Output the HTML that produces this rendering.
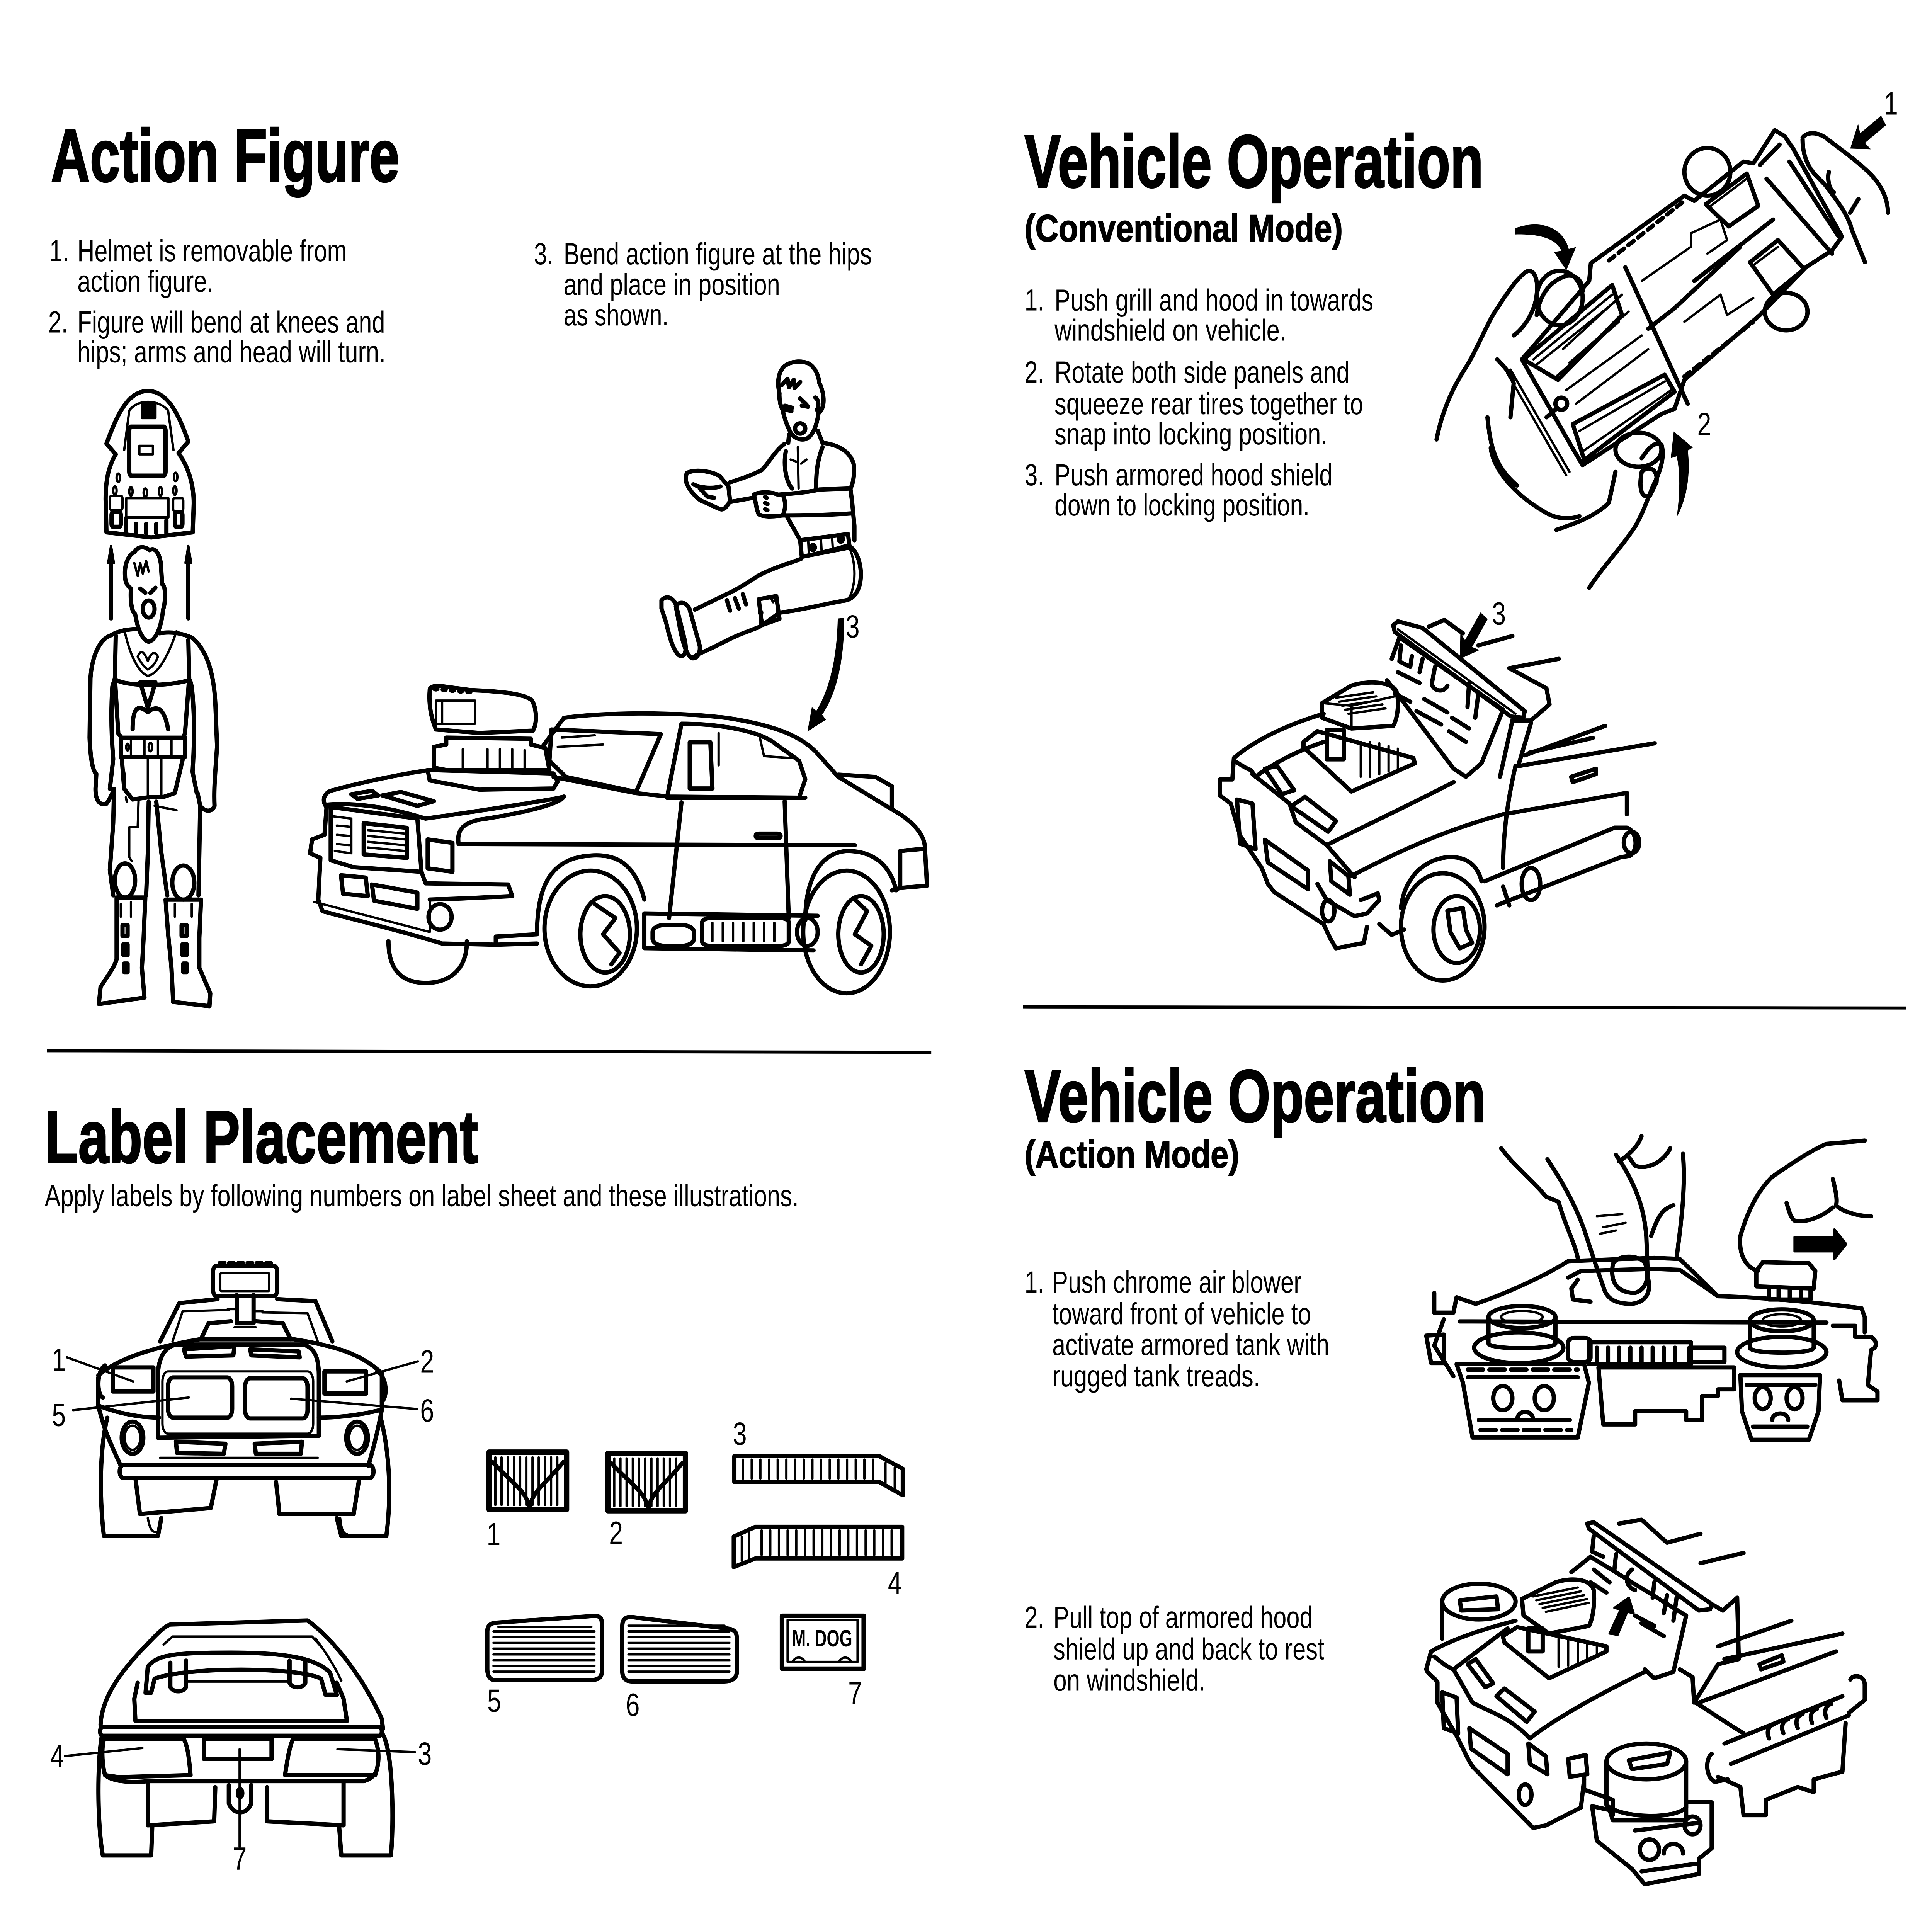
<!DOCTYPE html>
<html>
<head>
<meta charset="utf-8">
<style>
html,body{margin:0;padding:0;background:#fff;overflow:hidden;width:100%;height:100%;}
svg.page{display:block;position:fixed;left:0;top:0;width:100vw;height:100vh;}
.d{fill:none;stroke:#000;stroke-width:6;stroke-linejoin:round;stroke-linecap:round;}
.d *{vector-effect:non-scaling-stroke;}
.d .o{stroke-width:11;}
.d .f{fill:#000;}
.d .w{fill:#fff;}
text{font-family:"Liberation Sans",Arial,sans-serif;fill:#000;}
.h{font-size:195px;font-weight:bold;stroke:#000;stroke-width:4px;}
.s{font-size:100px;font-weight:bold;stroke:#000;stroke-width:2px;}
.t{font-size:80px;}
.n{font-size:85px;}
</style>
</head>
<body>
<svg class="page" xmlns="http://www.w3.org/2000/svg" width="6568" height="5060" viewBox="0 0 6568 5060" preserveAspectRatio="none">
<rect x="0" y="0" width="6568" height="5060" fill="#fff"/>

<!-- ===== HEADINGS ===== -->
<text class="h" x="173" y="475" textLength="1185" lengthAdjust="spacingAndGlyphs">Action Figure</text>
<text class="h" x="3483" y="490" textLength="1560" lengthAdjust="spacingAndGlyphs">Vehicle Operation</text>
<text class="s" x="3483" y="632" textLength="1082" lengthAdjust="spacingAndGlyphs">(Conventional Mode)</text>
<text class="h" x="152" y="3045" textLength="1473" lengthAdjust="spacingAndGlyphs">Label Placement</text>
<text class="h" x="3483" y="2938" textLength="1568" lengthAdjust="spacingAndGlyphs">Vehicle Operation</text>
<text class="s" x="3483" y="3058" textLength="730" lengthAdjust="spacingAndGlyphs">(Action Mode)</text>

<!-- ===== BODY TEXT: Action Figure ===== -->
<text class="t" x="168" y="684">1.</text>
<text class="t" x="263" y="684" textLength="916" lengthAdjust="spacingAndGlyphs">Helmet is removable from</text>
<text class="t" x="263" y="764" textLength="463" lengthAdjust="spacingAndGlyphs">action figure.</text>
<text class="t" x="164" y="871">2.</text>
<text class="t" x="263" y="871" textLength="1046" lengthAdjust="spacingAndGlyphs">Figure will bend at knees and</text>
<text class="t" x="263" y="949" textLength="1048" lengthAdjust="spacingAndGlyphs">hips; arms and head will turn.</text>
<text class="t" x="1815" y="692">3.</text>
<text class="t" x="1916" y="692" textLength="1048" lengthAdjust="spacingAndGlyphs">Bend action figure at the hips</text>
<text class="t" x="1916" y="772" textLength="736" lengthAdjust="spacingAndGlyphs">and place in position</text>
<text class="t" x="1916" y="852" textLength="357" lengthAdjust="spacingAndGlyphs">as shown.</text>

<!-- ===== Conventional Mode text ===== -->
<text class="t" x="3483" y="813">1.</text>
<text class="t" x="3585" y="813" textLength="1084" lengthAdjust="spacingAndGlyphs">Push grill and hood in towards</text>
<text class="t" x="3585" y="892" textLength="788" lengthAdjust="spacingAndGlyphs">windshield on vehicle.</text>
<text class="t" x="3483" y="1002">2.</text>
<text class="t" x="3585" y="1002" textLength="1003" lengthAdjust="spacingAndGlyphs">Rotate both side panels and</text>
<text class="t" x="3585" y="1085" textLength="1049" lengthAdjust="spacingAndGlyphs">squeeze rear tires together to</text>
<text class="t" x="3585" y="1164" textLength="928" lengthAdjust="spacingAndGlyphs">snap into locking position.</text>
<text class="t" x="3483" y="1271">3.</text>
<text class="t" x="3585" y="1271" textLength="945" lengthAdjust="spacingAndGlyphs">Push armored hood shield</text>
<text class="t" x="3585" y="1350" textLength="867" lengthAdjust="spacingAndGlyphs">down to locking position.</text>

<!-- ===== Action Mode text ===== -->
<text class="t" x="3483" y="3385">1.</text>
<text class="t" x="3577" y="3385" textLength="848" lengthAdjust="spacingAndGlyphs">Push chrome air blower</text>
<text class="t" x="3577" y="3468" textLength="880" lengthAdjust="spacingAndGlyphs">toward front of vehicle to</text>
<text class="t" x="3577" y="3549" textLength="942" lengthAdjust="spacingAndGlyphs">activate armored tank with</text>
<text class="t" x="3577" y="3631" textLength="707" lengthAdjust="spacingAndGlyphs">rugged tank treads.</text>
<text class="t" x="3483" y="4263">2.</text>
<text class="t" x="3581" y="4263" textLength="882" lengthAdjust="spacingAndGlyphs">Pull top of armored hood</text>
<text class="t" x="3581" y="4346" textLength="921" lengthAdjust="spacingAndGlyphs">shield up and back to rest</text>
<text class="t" x="3581" y="4428" textLength="517" lengthAdjust="spacingAndGlyphs">on windshield.</text>

<!-- ===== Label Placement text ===== -->
<text class="t" x="152" y="3159" textLength="2563" lengthAdjust="spacingAndGlyphs">Apply labels by following numbers on label sheet and these illustrations.</text>

<!-- ===== RULES ===== -->
<line x1="160" y1="2752" x2="3166" y2="2756" stroke="#000" stroke-width="8"/>
<line x1="3478" y1="2637" x2="6480" y2="2640" stroke="#000" stroke-width="8"/>

<!-- ===== A: Helmet + standing figure ===== -->
<g class="d" transform="translate(250,950) scale(0.574,1.116)">
  <path class="o" d="M195,190 C260,120 320,68 440,66 C565,68 625,125 680,185 L622,212 C672,240 712,280 712,330 L706,398 L460,410 L195,398 L190,320 C190,268 215,238 250,215 Z"/>
  <path d="M300,205 L330,112 C380,85 500,85 560,112 L592,205"/>
  <rect class="o" x="330" y="150" width="215" height="115" rx="10"/>
  <rect x="390" y="195" width="80" height="20"/>
  <rect class="f" x="405" y="98" width="80" height="32"/>
  <circle cx="265" cy="270" r="10"/><circle cx="605" cy="268" r="10"/>
  <circle cx="245" cy="300" r="10"/><circle cx="340" cy="302" r="10"/><circle cx="425" cy="305" r="10"/><circle cx="515" cy="302" r="10"/><circle cx="600" cy="300" r="10"/>
  <rect x="215" y="313" width="75" height="32" rx="6"/>
  <rect class="o" x="225" y="350" width="55" height="35" rx="8"/>
  <rect x="312" y="318" width="250" height="45"/>
  <rect x="590" y="318" width="60" height="30" rx="6"/>
  <rect class="o" x="600" y="350" width="45" height="35" rx="8"/>
  <path class="o" d="M310,365 L310,400 M370,378 L370,400 M430,378 L430,400 M490,378 L490,400 M550,370 L550,400"/>
  <path class="o" d="M222,600 L222,465 M680,600 L680,465"/>
  <polygon class="f" points="222,430 205,470 239,470"/>
  <polygon class="f" points="680,430 663,470 697,470"/>
  <path class="o" d="M305,500 C300,470 330,450 360,445 C380,430 420,430 450,440 C490,430 520,455 520,490 L525,520 C545,520 548,560 530,580 C520,620 490,650 445,655 C405,650 380,625 365,590 C345,585 335,560 340,530 C320,525 305,515 305,500 Z"/>
  <path d="M360,470 L380,500 L395,470 L410,495 L430,465 L445,490"/>
  <path class="o" d="M395,530 L425,540 M455,540 L485,528"/>
  <ellipse class="o" cx="445" cy="578" rx="35" ry="20"/>
  <path class="o" d="M380,625 C320,625 260,630 220,640 C150,650 110,690 100,740 L95,880 C100,930 115,960 135,965 L130,1000 C130,1030 160,1040 195,1035 C215,1025 235,1005 240,1000"/>
  <path class="o" d="M510,635 C580,630 640,635 700,645 C780,670 830,720 840,800 L850,900 C840,960 830,1000 835,1040 C820,1055 780,1055 750,1040 L735,1010"/>
  <path class="o" d="M250,640 L245,740 L265,870 L285,880 M680,650 L685,740 L660,870 L650,880"/>
  <path d="M300,625 C340,700 400,730 440,735 C500,730 560,690 610,630"/>
  <path class="o" d="M255,745 C330,760 560,760 685,745"/>
  <path class="o" d="M245,740 L230,760 C220,820 225,880 235,930 L215,1000 M690,745 L700,760 C720,830 715,900 705,960 L730,1010"/>
  <path d="M380,690 C400,670 420,680 440,700 C460,680 480,675 500,690 C480,710 460,715 440,720 C420,715 400,705 380,690 Z"/>
  <path class="o" d="M395,750 L485,750 L440,810 Z M350,860 C350,810 380,800 440,820 C500,800 540,815 560,860"/>
  <path class="o" d="M280,880 L660,880 L660,925 L280,925 Z"/>
  <path d="M340,885 L340,920 M420,885 L420,920 M500,885 L500,920 M580,885 L580,920"/>
  <circle cx="455" cy="902" r="10"/><circle cx="320" cy="902" r="8"/>
  <path class="o" d="M285,925 L300,1000 L350,1025 L440,1020 L525,1020 L600,1010 L650,925"/>
  <path d="M440,925 L440,1020 M520,925 L520,1020"/>
  <path d="M300,960 L305,975 M300,990 L305,1005 M310,1020 L315,1030"/>
  <path class="o" d="M240,1000 L235,1080 L215,1190 L235,1250 M445,1030 L440,1150 L430,1250 M490,1030 L520,1150 L555,1250 M750,1040 L745,1150 L740,1250"/>
  <path d="M385,1030 L380,1090 L330,1090 L330,1160 L345,1170 M480,1040 L610,1050"/>
  <ellipse class="o" cx="305" cy="1215" rx="60" ry="40"/>
  <ellipse class="o" cx="650" cy="1220" rx="65" ry="40"/>
  <path class="o" d="M255,1255 L425,1255 L415,1350 L405,1420 L420,1490 L150,1505 L160,1465 C200,1440 240,1420 255,1400 Z"/>
  <path class="o" d="M545,1260 L755,1260 L745,1350 L745,1420 L810,1480 L805,1510 L590,1500 L580,1420 L560,1340 Z"/>
  <path class="o" d="M290,1320 L320,1320 L320,1345 L290,1345 Z M295,1365 L320,1365 L320,1390 L295,1390 Z M300,1410 L320,1410 L320,1430 L300,1430 Z"/>
  <path class="o" d="M640,1320 L670,1320 L670,1345 L640,1345 Z M645,1365 L670,1365 L670,1390 L645,1390 Z M650,1410 L670,1410 L670,1430 L650,1430 Z"/>
  <path d="M280,1270 L280,1300 M340,1265 L340,1300 M600,1270 L600,1300 M700,1270 L700,1300"/>
</g>

<!-- ===== B: Sitting figure ===== -->
<g class="d" transform="translate(2200,900) scale(0.542,0.542)">
  <path class="o" d="M830,240 C815,190 820,140 860,110 C900,85 960,80 1010,95 C1050,110 1075,150 1080,190 C1100,220 1110,260 1105,290 C1100,320 1085,330 1075,335 C1065,390 1045,440 1000,460 C960,470 920,455 900,430 C880,400 860,360 850,320 C835,300 828,270 830,240 Z"/>
  <path class="o" d="M845,200 L880,170 L890,210 L920,175 L925,215 L960,185"/>
  <path class="o" d="M865,300 L910,310 M960,265 L1000,295 M870,320 L905,325 M970,300 L1010,305"/>
  <ellipse class="o" cx="960" cy="410" rx="32" ry="25"/>
  <path class="o" d="M1055,260 C1075,270 1080,300 1065,320"/>
  <path class="o" d="M890,440 L885,480 M1070,420 L1100,480"/>
  <path class="o" d="M1110,480 C1200,490 1270,520 1295,580 C1305,630 1290,680 1275,700 L1285,760 L1300,880 L1300,950"/>
  <path class="o" d="M870,520 C850,600 880,680 910,700 M1100,500 C1060,580 1060,650 1060,700"/>
  <path d="M945,500 L950,700 M900,560 L935,570 M965,580 L1000,560"/>
  <path class="o" d="M860,485 C800,520 760,580 720,610 C650,640 560,660 520,670"/>
  <path class="o" d="M520,765 L665,745"/>
  <path class="o" d="M250,625 C300,605 400,615 455,640 L510,690 L520,760 C500,790 480,805 460,800 C420,790 380,770 340,760 C300,740 270,710 250,680 C240,660 240,640 250,625 Z"/>
  <path class="o" d="M290,680 C340,700 420,700 460,690 M330,700 L380,740 L420,745"/>
  <path class="o" d="M670,730 C700,715 780,715 820,730 L850,730 C870,760 870,800 850,830 C800,835 740,840 700,825 C685,800 680,760 670,730 Z"/>
  <path class="o" d="M740,740 L750,745 M740,770 L755,775 M740,800 L755,805"/>
  <path class="o" d="M820,730 C900,725 1000,720 1080,705 L1270,700 M850,830 C950,830 1100,830 1290,820"/>
  <path class="o" d="M880,840 L960,950"/>
  <path class="o" d="M960,950 L1260,920 L1270,985 L970,1030 Z"/>
  <circle class="o" cx="1040" cy="985" r="12"/><circle class="o" cx="1215" cy="945" r="12"/>
  <path d="M1010,945 L1015,1025 M1090,938 L1095,1015 M1160,930 L1165,1000"/>
  <path class="o" d="M970,1030 C1100,1010 1200,990 1260,975 C1310,990 1345,1060 1340,1130 C1335,1190 1300,1230 1250,1240"/>
  <path d="M1270,990 C1300,1040 1310,1120 1290,1180 C1280,1220 1260,1235 1250,1240"/>
  <path class="o" d="M965,1040 C900,1060 800,1080 700,1120 C620,1160 560,1190 500,1210 L300,1285"/>
  <path class="o" d="M1250,1240 C1100,1260 950,1290 830,1300 L760,1340 L700,1370 L600,1400 C500,1430 420,1470 320,1500 L280,1520"/>
  <path class="o" d="M700,1235 L810,1220 L830,1330 L720,1360 Z"/>
  <circle class="f" cx="712" cy="1300" r="10"/><circle class="f" cx="718" cy="1345" r="10"/>
  <path class="o" d="M500,1240 L520,1290 M550,1230 L575,1280 M600,1210 L620,1260"/>
  <path class="o" d="M90,1240 C120,1215 160,1225 180,1260 L235,1430 C250,1480 240,1510 210,1510 C170,1500 140,1420 120,1350 L90,1280 Z"/>
  <path class="o" d="M180,1270 C200,1245 240,1245 265,1280 L330,1460 C335,1500 310,1525 280,1520 C240,1500 215,1420 200,1350 Z"/>
  <path d="M770,1220 L790,1250 L810,1225"/>
</g>
<path d="M2848,1620 L2870,1618 C2870,1730 2845,1815 2795,1872 L2808,1885 L2745,1916 L2760,1852 L2775,1862 C2820,1805 2845,1725 2848,1620 Z" fill="#000"/>
<text class="n" x="2875" y="1670">3</text>

<!-- ===== C: Car (Action Figure) ===== -->
<g class="d" transform="translate(1040,1750) scale(1.403,0.606)">
  <path class="o" d="M300,95 C300,80 310,75 330,78 L400,95 C470,100 530,110 548,140 C560,180 560,240 550,270 L420,280 L315,265 C300,200 298,140 300,95 Z"/>
  <rect x="315" y="140" width="95" height="100"/>
  <path d="M330,140 L330,240"/>
  <circle class="f" cx="315" cy="90" r="6"/><circle class="f" cx="335" cy="93" r="6"/><circle class="f" cx="355" cy="96" r="6"/><circle class="f" cx="375" cy="99" r="6"/><circle class="f" cx="395" cy="102" r="6"/>
  <path class="o" d="M340,300 L545,305 L545,330 L580,345 L590,440 L340,440 L310,430 L310,340 L340,330 Z"/>
  <path d="M440,350 L440,440 M470,350 L470,440 M500,350 L500,440 M530,355 L530,440 M380,350 L380,430"/>
  <path class="o" d="M295,440 L600,455 L610,490 L600,520 L420,525 L300,485 Z"/>
  <path class="o" d="M300,440 C220,460 120,500 60,530 C40,545 40,580 50,600 L45,720 L15,740 L10,800 L35,820 L30,1000 L40,1050 C100,1080 200,1120 330,1190 L460,1195 L460,1160 L560,1150"/>
  <path class="o" d="M50,590 C120,580 200,600 290,650 C330,640 600,570 625,555"/>
  <path class="o" d="M60,600 L270,650 L280,880 L115,860 L60,830 Z"/>
  <path class="o" d="M140,670 L245,690 L245,820 L140,805 Z"/>
  <path d="M150,700 L240,715 M150,725 L240,740 M150,750 L240,765 M150,775 L240,790"/>
  <path d="M65,640 L110,650 L110,800 L70,790 M75,680 L105,685 M75,720 L105,725 M75,760 L105,765"/>
  <path class="o" d="M110,545 L160,530 L175,550 L125,565 Z M185,550 L230,535 L310,575 L270,595 Z"/>
  <path class="o" d="M295,740 L355,755 L355,880 L295,865 Z"/>
  <path class="o" d="M85,895 L145,905 L150,985 L90,975 Z M160,935 L270,970 L270,1040 L165,1005 Z"/>
  <ellipse class="o" cx="325" cy="1075" rx="28" ry="55"/>
  <path class="o" d="M280,880 L290,930 L490,935 L500,985 L380,995 L300,1000"/>
  <path d="M300,1000 L300,1140 M20,1010 L300,1140"/>
  <path class="o" d="M370,760 L1330,765"/>
  <path class="o" d="M370,760 C365,700 380,670 420,655 C550,620 620,580 625,555"/>
  <path class="o" d="M575,335 L625,215 C720,190 900,188 1020,215 C1130,245 1200,290 1240,370 L1290,470 L1420,610 C1480,670 1500,730 1500,780 L1440,790 L1440,950 L1420,960"/>
  <path class="o" d="M595,265 L860,285 L800,535 L630,470 L590,400 Z"/>
  <path d="M620,300 L700,290 M610,340 L720,330"/>
  <path class="o" d="M600,470 L800,540 L880,555 L1210,560"/>
  <path class="o" d="M875,560 L910,240 C1000,240 1100,270 1140,330 L1195,400 L1210,480 L1195,560 Z"/>
  <path class="o" d="M930,320 L980,320 L985,520 L930,520 Z"/>
  <path d="M1000,280 L1000,420 M1100,300 L1110,380 L1190,390"/>
  <path class="o" d="M910,580 L880,1080 M1160,575 L1170,1080"/>
  <rect class="o" x="1090" y="715" width="60" height="20" rx="8"/>
  <path class="o" d="M1440,790 L1500,780 L1505,940 L1440,950"/>
  <path class="o" d="M1290,460 L1380,470 L1420,510 L1420,600"/>
  <ellipse class="o" cx="690" cy="1125" rx="112" ry="250"/>
  <ellipse class="o" cx="725" cy="1150" rx="60" ry="165"/>
  <path class="o" d="M700,1020 L750,1080 L720,1150 L760,1230 L740,1280"/>
  <path class="o" d="M560,1150 C560,950 590,820 690,810 C760,800 800,860 820,1000"/>
  <ellipse class="o" cx="1310" cy="1140" rx="105" ry="265"/>
  <ellipse class="o" cx="1345" cy="1150" rx="55" ry="165"/>
  <path class="o" d="M1330,1000 L1360,1050 L1330,1150 L1370,1200 L1345,1280"/>
  <path class="o" d="M1210,1090 C1210,930 1240,800 1310,790 C1390,790 1420,880 1430,960"/>
  <path class="o" d="M820,1060 L1240,1070 M820,1060 L820,1210 L1230,1220"/>
  <rect class="o" x="840" y="1110" width="100" height="90" rx="30"/>
  <rect class="o" x="960" y="1080" width="210" height="120" rx="20"/>
  <path d="M985,1100 L985,1180 M1010,1100 L1010,1180 M1035,1100 L1035,1180 M1060,1100 L1060,1180 M1085,1100 L1085,1180 M1110,1100 L1110,1180 M1135,1100 L1135,1180"/>
  <ellipse class="o" cx="1215" cy="1140" rx="25" ry="60"/>
  <path class="o" d="M200,1180 C200,1300 230,1360 290,1360 C350,1360 390,1300 390,1180"/>
  <path class="o" d="M460,1195 L560,1190"/>
</g>

<!-- ===== D: Hands + chassis ===== -->
<g class="d" transform="translate(4800,200) scale(1.116,0.893)">
  <path class="o" d="M545,548 L830,350 L860,365 L1010,250 L1040,255 L1105,158 L1135,175 L1160,210 L1310,470 L1280,510 L1200,560 L1060,700 L830,890 L800,975 L760,990 L520,1140 L495,1100 L335,830 L380,780 L540,600 Z"/>
  <path class="o" d="M340,830 L610,612 L640,700 L445,890 Z"/>
  <path class="o" d="M490,1020 L770,875 L800,925 L525,1125 Z"/>
  <path class="o" d="M895,375 L1020,285 L1055,380 L965,440 Z"/>
  <path class="o" d="M1030,545 L1115,480 L1195,565 L1100,640 Z"/>
  <path d="M370,830 L610,640 M380,845 L620,660 M440,880 L630,720 M510,1040 L770,895 M520,1100 L790,920 M910,380 L1020,300 M1045,550 L1115,500"/>
  <path d="M460,800 L640,640 M480,840 L660,690 M470,920 L700,760 M500,960 L720,800"/>
  <ellipse class="o" cx="900" cy="280" rx="70" ry="70"/>
  <ellipse class="o" cx="1140" cy="690" rx="65" ry="55"/>
  <ellipse class="o" cx="450" cy="650" rx="70" ry="80"/>
  <ellipse class="o" cx="690" cy="1095" rx="70" ry="50"/>
  <path class="o" d="M650,560 L840,960 M720,740 L800,680 L1000,500 M860,600 L1100,420"/>
  <path d="M700,600 L850,500 L850,460 L940,420 L960,480 L900,520 M830,720 L940,640 L960,700 L1040,650"/>
  <path class="o" d="M600,540 L830,365" stroke-dasharray="18,14"/>
  <path class="o" d="M830,880 L1040,720" stroke-dasharray="18,14"/>
  <path class="o" d="M1060,260 L1120,200 M1080,300 L1280,520 M1150,250 L1300,470"/>
  <circle class="o" cx="455" cy="960" r="18"/>
  <path class="o" d="M410,1000 L440,975"/>
  <path class="o" d="M75,1065 C90,990 120,920 160,860 C200,800 230,720 260,680 C300,620 330,580 355,570 C375,570 385,600 380,640 C375,690 340,740 310,760"/>
  <path class="o" d="M240,1090 C250,1160 320,1230 400,1275 C440,1300 480,1300 510,1290"/>
  <path class="o" d="M260,830 C280,850 300,870 310,900 L300,1000"/>
  <path d="M290,870 L470,1170 M300,860 L480,1160"/>
  <path class="o" d="M380,700 C390,640 420,600 470,585 C500,580 520,600 520,630"/>
  <path class="o" d="M540,1500 C580,1440 640,1380 680,1320 C710,1270 720,1230 740,1190 C760,1150 770,1110 760,1080 C740,1070 720,1090 700,1120"/>
  <path class="o" d="M440,1330 C500,1310 560,1290 600,1250 L620,1160"/>
  <path class="o" d="M700,1160 C720,1140 750,1150 745,1190 L725,1230 C700,1240 690,1210 700,1160 Z"/>
  <path class="o" d="M230,1000 C240,1100 260,1150 320,1200"/>
  <path class="o" d="M1190,180 C1200,165 1230,160 1260,180 C1300,210 1360,250 1400,290 C1430,320 1450,360 1450,400"/>
  <path class="o" d="M1190,185 C1190,220 1200,260 1230,290 L1260,320 C1300,370 1330,410 1340,450 L1380,545"/>
  <path class="o" d="M1270,280 C1265,300 1270,330 1285,340 M1335,400 L1360,360"/>
</g>
<g transform="translate(6290,389) rotate(147)"><polygon points="0,0 -58,-40 -50,-15 -135,-15 -135,15 -50,15 -58,40" fill="#000"/></g>
<text class="n" x="6405" y="300">1</text>
<path d="M5150,598 C5240,572 5315,598 5333,652 L5358,647 L5325,708 L5283,660 L5308,657 C5290,624 5230,612 5150,614 Z" fill="#000"/>
<path d="M5700,1355 C5712,1290 5712,1235 5700,1195 L5680,1200 L5690,1130 L5755,1172 L5738,1180 C5748,1250 5732,1310 5700,1355 Z" fill="#000"/>
<text class="n" x="5770" y="1140">2</text>

<!-- ===== E: Conventional mode car ===== -->
<g class="d" transform="translate(4100,1550) scale(1.052,0.702)">
  <path class="o" d="M605,125 L620,110 L700,135 L1030,445 L1025,470 L985,465 L610,150 Z"/>
  <path d="M620,140 L1000,455"/>
  <path class="o" d="M720,130 L770,105 L830,155"/>
  <path class="o" d="M600,250 L625,170 L960,440 L890,640 L840,690 L800,660 L585,330"/>
  <path class="o" d="M620,300 L690,340 M705,400 L780,450 M680,445 L760,495 M795,470 L850,510 M785,520 L840,560 M610,380 L660,410"/>
  <path class="o" d="M630,200 L625,260 L660,280 L665,240 M700,250 L690,300 M740,280 L730,340 C730,370 770,380 780,350 M850,340 L845,430 M880,380 L870,470"/>
  <path class="o" d="M375,415 L470,350 C520,330 600,335 615,370 C625,410 620,470 605,500 L470,510 L375,470 Z"/>
  <path d="M375,415 L470,425 L470,510 M470,425 L610,390"/>
  <path d="M420,395 L540,375 M430,410 L550,390 M440,425 L560,405 M450,440 L570,420 M460,455 L580,435"/>
  <path class="o" d="M315,560 L360,520 L670,620 L675,640 L470,745 L315,580 Z"/>
  <path d="M500,560 L500,690 M530,560 L530,690 M560,565 L560,680 M590,575 L590,670 M620,585 L620,660"/>
  <rect class="o" x="390" y="515" width="55" height="110"/>
  <path class="o" d="M380,455 C250,500 150,560 90,620 L85,700 L45,700 L45,760 L80,790 L110,910 L180,1030 L200,1090 L220,1120 L380,1240 L400,1290 L420,1330 L510,1310 L520,1250"/>
  <path class="o" d="M90,630 C120,650 130,660 145,665 L160,690 C240,620 330,580 380,560"/>
  <path class="o" d="M150,680 L270,790 L290,860 L390,945 L480,1065 M390,945 C500,880 650,800 800,710"/>
  <path class="o" d="M190,660 L230,650 L285,740 L245,755 Z M275,800 L320,765 L420,855 L395,895 Z"/>
  <path class="o" d="M100,775 L150,790 L160,960 L110,940 Z M190,925 L330,1040 L330,1110 L200,1010 Z"/>
  <path class="o" d="M400,1005 L460,1060 L465,1130 L405,1080 Z"/>
  <path class="o" d="M360,1090 L390,1150 L480,1210 L520,1200 L560,1150 L555,1125 L500,1150"/>
  <ellipse class="o" cx="395" cy="1190" rx="20" ry="40"/>
  <path class="o" d="M470,1060 C650,950 800,880 960,830 L1360,750 L1360,830"/>
  <path class="o" d="M1000,650 C980,750 960,880 960,1030"/>
  <path class="o" d="M1010,650 L1450,565 M1030,610 L1290,500 M1045,600 L1250,545"/>
  <path class="o" d="M950,690 L990,480 L1050,480 L1110,420 L1100,360 L980,285 L1140,250 M1010,645 L1050,490"/>
  <path class="o" d="M1180,690 L1260,660 L1260,680 L1185,710 Z"/>
  <ellipse class="o" cx="765" cy="1250" rx="135" ry="200"/>
  <ellipse class="o" cx="810" cy="1260" rx="75" ry="125"/>
  <path class="o" d="M780,1190 L830,1180 L840,1260 L860,1310 L820,1330 L790,1270 Z"/>
  <path class="o" d="M630,1180 C640,1070 700,1000 780,990 C850,985 880,1030 890,1080"/>
  <path class="o" d="M560,1240 L600,1280 L640,1260"/>
  <path class="o" d="M900,1080 L1320,880 L1360,880 C1390,890 1400,960 1370,985 L1340,990 L960,1160 L940,1170"/>
  <ellipse class="o" cx="1375" cy="935" rx="25" ry="40"/>
  <ellipse class="o" cx="1050" cy="1090" rx="30" ry="60"/>
  <path class="o" d="M960,1100 L980,1170 M880,200 L990,165"/>
</g>
<g transform="translate(4963,1726) rotate(126)"><polygon points="0,0 -58,-40 -50,-15 -140,-15 -140,15 -50,15 -58,40" fill="#000"/></g>
<text class="n" x="5072" y="1636">3</text>

<!-- ===== F: Action mode top ===== -->
<g class="d" transform="translate(4800,2950) scale(1.084,0.574)">
  <path class="o" d="M70,760 L70,850 L130,850 L140,780 L200,810 C300,760 420,680 490,615 L760,600 L840,605 L960,775 C1100,780 1250,800 1410,830 L1420,870 L1420,940"/>
  <path class="o" d="M490,690 L530,660 L760,650 L840,655 L960,775"/>
  <path class="o" d="M150,890 L1300,895"/>
  <path class="o" d="M45,955 L100,950 L100,1080 L60,1080 Z"/>
  <path class="o" d="M100,880 L70,1000 L130,1140"/>
  <path class="o" d="M1320,910 L1390,910 L1390,960 L1440,960 C1460,980 1460,1010 1440,1020 L1430,1180 L1460,1210 L1460,1250 L1350,1250 L1340,1160"/>
  <ellipse class="o" cx="345" cy="870" rx="105" ry="50"/>
  <ellipse cx="345" cy="870" rx="65" ry="28"/>
  <path class="o" d="M240,870 L240,990 C240,1020 450,1020 450,990 L450,870"/>
  <ellipse class="o" cx="335" cy="1010" rx="140" ry="70"/>
  <ellipse class="o" cx="1160" cy="885" rx="100" ry="50"/>
  <ellipse cx="1160" cy="885" rx="60" ry="28"/>
  <path class="o" d="M1060,885 L1060,1010 C1060,1040 1260,1040 1260,1010 L1260,885"/>
  <ellipse class="o" cx="1160" cy="1030" rx="140" ry="70"/>
  <rect class="o" x="490" y="965" width="70" height="110" rx="20"/>
  <rect class="o" x="555" y="985" width="320" height="100"/>
  <path class="o" d="M580,1010 L580,1075 M615,1010 L615,1075 M650,1010 L650,1075 M685,1010 L685,1075 M720,1010 L720,1075 M755,1010 L755,1075 M790,1010 L790,1075 M825,1010 L825,1075"/>
  <rect class="o" x="870" y="1010" width="110" height="65"/>
  <path class="o" d="M585,1100 L1010,1100 L1010,1200 L960,1200 L960,1230 L910,1230 L910,1340 L860,1340 L860,1300 L700,1300 L700,1360 L600,1360 Z"/>
  <path class="o" d="M140,1085 L540,1085 L555,1170 L520,1420 L190,1420 L160,1170 Z"/>
  <path class="o" d="M175,1145 L520,1145 M210,1340 L495,1340"/>
  <path class="o" d="M175,1110 L520,1110 M215,1385 L500,1385" stroke-dasharray="40,16"/>
  <ellipse class="o" cx="285" cy="1240" rx="30" ry="55"/>
  <ellipse class="o" cx="415" cy="1240" rx="30" ry="55"/>
  <path class="o" d="M330,1340 C330,1290 380,1290 380,1340"/>
  <path class="o" d="M1030,1135 L1280,1135 L1275,1300 L1245,1430 L1065,1430 L1035,1300 Z"/>
  <path class="o" d="M1050,1180 L1265,1180 M1070,1370 L1240,1370"/>
  <ellipse class="o" cx="1100" cy="1240" rx="25" ry="50"/>
  <ellipse class="o" cx="1200" cy="1240" rx="25" ry="50"/>
  <path class="o" d="M1130,1340 C1130,1300 1180,1300 1180,1340"/>
  <path class="o" d="M280,100 C320,180 380,250 420,320 L460,345 C480,450 510,530 520,600"/>
  <path class="o" d="M425,150 C470,250 510,350 540,470 C560,560 580,650 600,730 C610,790 640,810 690,810 C740,800 750,750 740,690 L735,500 C730,420 720,300 640,130"/>
  <path class="o" d="M630,630 C640,590 700,580 730,620 C745,680 740,740 700,760 C650,760 620,720 630,630 Z"/>
  <path class="o" d="M720,45 C710,90 680,130 650,160 M680,140 L700,180 C740,200 790,160 810,100 M850,125 C860,300 840,480 830,600 M750,500 C770,420 780,380 820,360"/>
  <path d="M580,410 L660,400 M600,460 L670,440 M590,490 L640,475"/>
  <path class="o" d="M1420,65 L1300,80 C1250,110 1180,180 1130,230 C1080,300 1050,400 1030,500 C1025,570 1040,640 1085,660"/>
  <path class="o" d="M1320,240 C1330,300 1335,340 1330,360 C1350,390 1400,410 1440,410 M1175,350 C1185,400 1190,420 1200,430 C1230,440 1280,420 1320,370"/>
  <path class="o" d="M1080,660 L1100,620 L1245,625 L1265,660 L1260,740 L1080,730 Z"/>
  <path class="o" d="M1120,740 L1120,790 L1250,790 L1250,740 M1150,745 L1150,785 M1185,745 L1185,785 M1220,745 L1220,785"/>
  <path class="o" d="M520,700 L500,740 L505,790 L560,800"/>
  <path class="f" d="M1200,505 L1325,505 L1325,470 L1362,537 L1325,605 L1325,570 L1200,570 Z"/>
</g>

<!-- ===== G: Action mode bottom ===== -->
<g class="d" transform="translate(4800,3950) scale(1.084,0.670)">
  <ellipse class="o" cx="210" cy="365" rx="115" ry="70"/>
  <path class="o" d="M150,360 L265,345 L270,395 L155,400 Z"/>
  <path class="o" d="M95,365 L95,510"/>
  <path class="o" d="M325,440 C230,470 130,510 60,560 L45,630 C50,650 70,660 80,680 L80,760 L140,890 L180,990 L190,1010 L380,1250 L420,1240 L530,1170 L540,1060"/>
  <path class="o" d="M70,580 C100,610 110,620 130,630 L300,470 M130,630 L190,760 C250,800 310,820 370,900 C450,820 600,720 730,640"/>
  <path class="o" d="M175,610 L200,590 L255,685 L230,700 Z M265,735 L290,705 L385,795 L360,835 Z"/>
  <path class="o" d="M95,720 L140,740 L145,880 L100,860 Z M180,860 L300,960 L300,1040 L185,940 Z M365,920 L420,970 L425,1040 L370,1000 Z"/>
  <path class="o" d="M345,355 L450,290 C500,270 560,275 570,320 C575,380 565,440 555,460 L430,490 L350,420 Z"/>
  <path d="M380,345 L520,310 M390,360 L530,325 M400,375 L540,340 M410,390 L550,355 M420,405 L555,370"/>
  <path class="o" d="M285,500 L330,465 L610,540 L610,560 L430,665 L290,525 Z"/>
  <path d="M460,510 L460,620 M490,515 L490,615 M520,525 L520,605 M550,530 L550,595 M580,540 L580,580"/>
  <rect class="o" x="365" y="470" width="45" height="90"/>
  <path class="o" d="M550,60 L570,55 L940,375 L935,395 L900,400 L555,80 Z"/>
  <path class="o" d="M500,250 L560,190 L860,420 L820,640 L760,665 L730,630"/>
  <path class="o" d="M570,110 L565,170 L600,190 M640,180 L635,240 M690,240 C665,260 670,310 700,320 M760,290 L755,350 M800,340 L790,410 M830,350 L820,440"/>
  <path class="o" d="M570,240 L620,290 M560,290 L610,330 M700,420 L760,460 M720,450 L790,500"/>
  <path class="o" d="M650,60 L720,45 L800,135 L905,100 M905,215 L1040,175 M940,375 L975,400 L1020,350 L1025,590 L960,610 L885,760 L880,660 L840,630"/>
  <path class="o" d="M960,540 L1190,440 M980,590 L1350,490 M900,760 L1330,560 M890,760 C940,800 1000,850 1040,880"/>
  <path class="o" d="M1090,610 L1160,575 L1165,600 L1095,630 Z"/>
  <path class="o" d="M980,920 L1350,735 M1000,1000 L1370,810"/>
  <path class="o" d="M1120,900 C1110,870 1120,850 1135,845 M1165,880 C1155,850 1165,830 1180,825 M1210,860 C1200,830 1210,810 1225,805 M1255,840 C1245,810 1255,790 1270,785 M1300,820 C1290,790 1300,770 1315,765"/>
  <path class="o" d="M1375,670 C1380,650 1420,650 1420,690 L1420,750 L1370,800"/>
  <path class="o" d="M960,1050 L1030,1090 L1040,1200 L1110,1200 L1110,1140 L1210,1090 L1260,1110 L1260,1060 L1350,1030 L1360,840"/>
  <path class="o" d="M940,960 C920,980 920,1050 950,1070 L990,1060"/>
  <ellipse class="o" cx="735" cy="990" rx="125" ry="70"/>
  <path class="o" d="M610,990 L610,1160 C650,1210 820,1220 860,1170 L860,990"/>
  <path class="o" d="M680,985 L810,955 L800,1000 L690,1020 Z"/>
  <path class="o" d="M565,1165 L620,1180 L630,1220 L860,1220 L860,1150 L940,1150 L940,1330 L900,1370 L900,1430 L730,1470 L690,1410 L580,1300 Z"/>
  <ellipse class="o" cx="745" cy="1335" rx="30" ry="40"/>
  <ellipse class="o" cx="880" cy="1240" rx="25" ry="35"/>
  <path class="o" d="M790,1350 C790,1300 850,1300 850,1350 M700,1260 L900,1230 M720,1420 L890,1390"/>
  <path class="o" d="M540,1050 L540,1100 L630,1140 L630,1200"/>
  <path class="o" d="M490,980 L545,965 L550,1040 L495,1050 Z"/>
  <ellipse class="o" cx="355" cy="1120" rx="20" ry="40"/>
  <path class="f" d="M620,490 L655,395 L635,390 L680,350 L695,410 L675,405 L645,495 Z"/>
</g>

<!-- ===== H: Label placement cars ===== -->
<g class="d" transform="translate(250,3250) scale(0.765,1.052)">
  <rect class="o" x="620" y="62" width="285" height="75" rx="15"/>
  <rect x="652" y="80" width="218" height="45" rx="5"/>
  <path class="o" d="M650,55 L880,55" stroke-dasharray="12,12"/>
  <path class="o" d="M725,135 L725,205 L800,205 L800,135"/>
  <path d="M685,170 L725,170 M800,175 L840,175 M715,215 L810,215"/>
  <path class="o" d="M385,250 L470,155 L640,145 M905,145 L1075,150 L1150,250"/>
  <path d="M440,250 L485,175 L690,172 M840,178 L1040,180 L1085,250"/>
  <path class="o" d="M570,240 L600,205 L700,200 M810,200 L930,205 L965,245"/>
  <path class="o" d="M490,270 L715,262 L710,285 L500,288 Z M785,270 L1000,275 L1005,290 L790,285 Z"/>
  <path class="o" d="M110,335 C200,290 380,262 560,245 L980,245 C1150,260 1280,280 1370,330"/>
  <path class="o" d="M375,490 L375,330 C380,280 420,258 470,258 L1020,258 C1070,265 1090,290 1090,335 L1090,485 Z"/>
  <rect x="395" y="325" width="670" height="155" rx="25"/>
  <rect class="o" x="420" y="340" width="285" height="100" rx="22"/>
  <rect class="o" x="762" y="342" width="278" height="100" rx="22"/>
  <rect class="o" x="175" y="315" width="180" height="60"/>
  <rect class="o" x="1115" y="325" width="185" height="55"/>
  <path class="o" d="M140,310 C105,320 100,380 130,390 M1350,325 C1395,340 1395,390 1370,400"/>
  <path class="o" d="M110,410 C200,430 300,440 380,440 M1090,440 C1200,440 1300,430 1370,420"/>
  <path class="o" d="M110,340 L110,410 C140,480 170,510 210,560 M1370,330 L1370,420 C1350,480 1330,520 1310,560"/>
  <ellipse class="o" cx="262" cy="490" rx="48" ry="40"/>
  <ellipse cx="262" cy="490" rx="35" ry="30"/>
  <ellipse class="o" cx="1260" cy="490" rx="48" ry="40"/>
  <ellipse cx="1260" cy="490" rx="35" ry="30"/>
  <path class="o" d="M455,500 L675,505 L668,530 L460,528 Z M805,505 L1015,500 L1010,530 L810,530 Z"/>
  <path d="M385,540 L1085,540"/>
  <rect class="o" x="205" y="558" width="1128" height="32" rx="16"/>
  <path class="o" d="M275,590 L295,680 L610,665 L635,595 M900,600 L915,680 L1245,680 L1270,590"/>
  <path class="o" d="M150,440 C115,520 115,640 135,735 L375,735 L390,690 M1365,440 C1410,540 1410,650 1390,735 L1190,735 L1170,690"/>
  <path d="M330,690 C340,720 350,725 370,725 M1185,690 C1190,720 1200,730 1215,730"/>
  <path class="o" d="M120,1205 C125,1140 200,1080 300,1020 C360,985 400,960 430,955 L1040,945 C1150,990 1280,1080 1370,1190 L1375,1215"/>
  <path d="M400,1005 L440,985 L1060,985 L1100,1010 M1075,990 C1130,1030 1170,1070 1190,1095"/>
  <path class="o" d="M320,1125 L330,1060 C370,1030 450,1025 700,1025 C950,1025 1080,1040 1140,1075 L1170,1130 L1120,1130 L1100,1090 C1000,1060 500,1060 360,1090 L345,1125 Z"/>
  <path class="o" d="M430,1050 L430,1110 C440,1125 490,1125 500,1110 L500,1045 M960,1045 L960,1100 C970,1115 1020,1115 1030,1100 L1030,1045"/>
  <path class="o" d="M285,1100 L270,1140 L275,1195 L1215,1195 L1200,1140 L1170,1100"/>
  <path d="M500,1097 L960,1097"/>
  <rect class="o" x="118" y="1210" width="1252" height="22" rx="11"/>
  <path class="o" d="M135,1240 L490,1240 C510,1260 515,1300 520,1330 L200,1335 L140,1330 C125,1300 125,1260 135,1240 Z M940,1330 C950,1290 960,1260 975,1240 L1340,1240 C1360,1270 1360,1300 1340,1330 Z"/>
  <path class="o" d="M140,1330 C170,1345 250,1350 330,1345 L1290,1345 C1320,1340 1340,1330 1345,1320"/>
  <rect class="o" x="580" y="1240" width="300" height="50"/>
  <path class="o" d="M125,1235 C105,1300 105,1450 130,1530 L345,1530 L350,1455 M1370,1225 C1420,1260 1425,1450 1410,1530 L1190,1530 L1180,1455"/>
  <path class="o" d="M330,1345 L330,1455 L625,1445 L630,1360 M860,1360 L860,1445 L1200,1455 L1200,1345"/>
  <path class="o" d="M690,1355 L690,1400 C710,1430 770,1430 790,1400 L790,1355"/>
  <circle class="o" cx="740" cy="1375" r="10"/>
</g>

<!-- leaders + label sheet -->
<g class="d" transform="translate(0,2700) scale(2.105,1.505)">
  <path d="M108,568 L215,610 M118,660 L305,638 M675,575 L560,610 M673,658 L470,640 M105,1262 L230,1248 M670,1255 L545,1250 M387,1420 L387,1250"/>
  <rect class="o" x="790" y="733" width="125" height="100" style="stroke-width:14px"/>
  <path d="M800,742V825M810,742V825M820,742V825M830,742V825M840,742V825M850,742V825M860,742V825M870,742V825M880,742V825M890,742V825M900,742V825"/>
  <path class="o" d="M795,750 C830,790 850,800 855,830 M910,750 C880,790 860,800 855,830"/>
  <rect class="o" x="982" y="735" width="125" height="100" style="stroke-width:14px"/>
  <path d="M992,744V827M1002,744V827M1012,744V827M1022,744V827M1032,744V827M1042,744V827M1052,744V827M1062,744V827M1072,744V827M1082,744V827M1092,744V827"/>
  <path class="o" d="M987,752 C1022,792 1042,802 1047,832 M1102,752 C1072,792 1052,802 1047,832"/>
  <path class="o" d="M1186,740 L1420,740 L1458,762 L1458,808 L1420,785 L1186,785 Z"/>
  <path d="M1200,746V779M1214,746V779M1228,746V779M1242,746V779M1256,746V779M1270,746V779M1284,746V779M1298,746V779M1312,746V779M1326,746V779M1340,746V779M1354,746V779M1368,746V779M1382,746V779M1396,746V779M1410,746V779M1430,752V792M1445,760V800"/>
  <path class="o" d="M1185,880 L1220,863 L1457,863 L1457,918 L1220,918 L1185,933 Z"/>
  <path d="M1230,869V912M1244,869V912M1258,869V912M1272,869V912M1286,869V912M1300,869V912M1314,869V912M1328,869V912M1342,869V912M1356,869V912M1370,869V912M1384,869V912M1398,869V912M1412,869V912M1426,869V912M1440,869V912M1198,880V922M1210,874V918"/>
  <path class="o" d="M800,1030 L960,1018 C972,1018 972,1025 972,1035 L972,1115 C972,1128 962,1130 950,1130 L800,1130 C790,1130 787,1120 787,1110 L787,1045 C787,1035 792,1031 800,1030 Z"/>
  <path d="M797,1045H960M797,1055H960M797,1065H960M797,1075H960M797,1085H960M797,1095H960M797,1105H960M797,1115H960M805,1037H955"/>
  <path class="o" d="M1020,1020 L1175,1040 C1188,1042 1190,1048 1190,1058 L1190,1115 C1190,1128 1180,1132 1170,1132 L1020,1132 C1010,1132 1005,1125 1005,1115 L1005,1035 C1005,1025 1010,1019 1020,1020 Z"/>
  <path d="M1015,1035H1170M1015,1045H1178M1015,1055H1178M1015,1065H1178M1015,1075H1178M1015,1085H1178M1015,1095H1178M1015,1105H1178M1015,1115H1178"/>
  <rect class="o" x="1263" y="1018" width="132" height="92" style="stroke-width:12px"/>
  <rect x="1272" y="1025" width="113" height="73"/>
  <path d="M1280,1098 C1285,1088 1295,1088 1300,1098 M1355,1098 C1360,1088 1370,1088 1375,1098"/>
</g>
<text x="2795" y="4312" font-size="62" font-weight="bold" text-anchor="middle" textLength="205" lengthAdjust="spacingAndGlyphs">M. DOG</text>

<text class="n" x="200" y="3590" text-anchor="middle">1</text>
<text class="n" x="200" y="3735" text-anchor="middle">5</text>
<text class="n" x="1452" y="3595" text-anchor="middle">2</text>
<text class="n" x="1452" y="3723" text-anchor="middle">6</text>
<text class="n" x="194" y="4629" text-anchor="middle">4</text>
<text class="n" x="1444" y="4622" text-anchor="middle">3</text>
<text class="n" x="815" y="4897" text-anchor="middle">7</text>
<text class="n" x="1678" y="4047" text-anchor="middle">1</text>
<text class="n" x="2094" y="4044" text-anchor="middle">2</text>
<text class="n" x="2515" y="3784" text-anchor="middle">3</text>
<text class="n" x="3042" y="4175" text-anchor="middle">4</text>
<text class="n" x="1680" y="4483" text-anchor="middle">5</text>
<text class="n" x="2151" y="4494" text-anchor="middle">6</text>
<text class="n" x="2907" y="4464" text-anchor="middle">7</text>
</svg>
</body>
</html>
